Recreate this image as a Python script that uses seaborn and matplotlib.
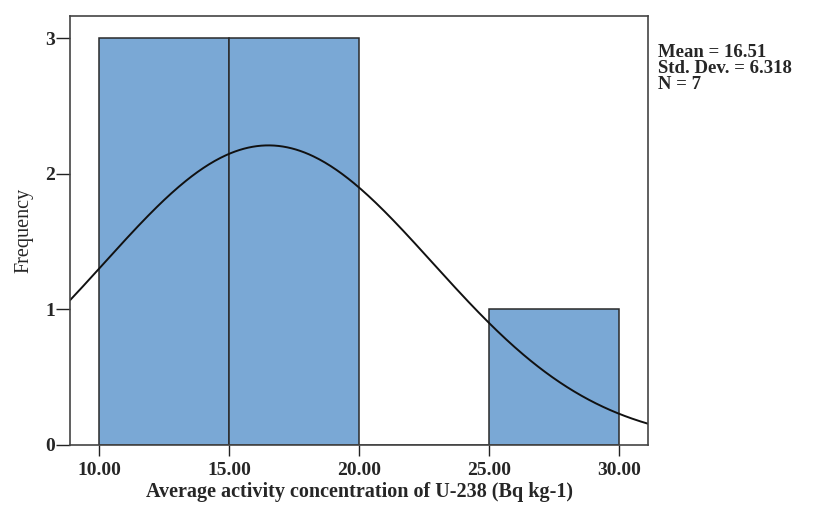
import numpy as np
import pandas as pd
import matplotlib
matplotlib.use("Agg")
import matplotlib.pyplot as plt
import seaborn as sns

# Data
bin_edges = [10.0, 15.0, 20.0, 25.0, 30.0]
bin_centers = [12.5, 17.5, 22.5, 27.5]
counts = [3, 3, 0, 1]
mean_val = 16.51
sd_val = 6.318
n_val = 7
x_ticks = [10.0, 15.0, 20.0, 25.0, 30.0]
x_tick_labels = ["10.00", "15.00", "20.00", "25.00", "30.00"]
y_ticks = [0, 1, 2, 3]

sns.set_theme(style="white")
plt.rcParams['font.family'] = ['Liberation Serif', 'DejaVu Serif']

fig = plt.figure(figsize=(8.22, 5.05), dpi=100)
ax = fig.add_axes([70/822, 1-444.5/505, (648-70)/822, (444.5-16)/505])

df = pd.DataFrame({"x": bin_centers, "w": counts})
sns.histplot(data=df, x="x", weights="w", bins=bin_edges, ax=ax,
             color="#7aa8d5", alpha=1.0, edgecolor="#2a2a2a", linewidth=1.1)

xmin, xmax = 8.88, 31.1
bw = bin_edges[1] - bin_edges[0]
xs = np.linspace(xmin, xmax, 400)
ys = n_val * bw * np.exp(-0.5 * ((xs - mean_val) / sd_val) ** 2) / (sd_val * np.sqrt(2 * np.pi))
ax.plot(xs, ys, color="#111111", linewidth=1.4)

ax.set_xlim(xmin, xmax)
ax.set_ylim(0, 3.166)
ax.set_xticks(x_ticks)
ax.set_xticklabels(x_tick_labels, fontweight="bold", fontsize=14)
ax.set_yticks(y_ticks)
ax.set_yticklabels([str(v) for v in y_ticks], fontweight="bold", fontsize=14)
ax.tick_params(axis="y", direction="out", length=10, width=1.0, color="#222222", pad=1, left=True)
ax.tick_params(axis="x", direction="out", length=8, width=1.0, color="#222222", pad=4.5, bottom=True)

for s in ax.spines.values():
    s.set_visible(True)
    s.set_color("#444444")
    s.set_linewidth(1.2)

ax.set_xlabel("Average activity concentration of U-238 (Bq kg-1)", fontweight="bold", fontsize=14.5, labelpad=2)
ax.set_ylabel("Frequency", fontsize=14.5, labelpad=8)

stats_text = "\n".join([f"Mean = {mean_val}", f"Std. Dev. = {sd_val}", f"N = {n_val}"])
fig.text(658/822, 1-68.5/505, stats_text, fontweight="bold", fontsize=13.5,
         va="center", ha="left", linespacing=0.95)

fig.savefig("out.png", dpi=100)
